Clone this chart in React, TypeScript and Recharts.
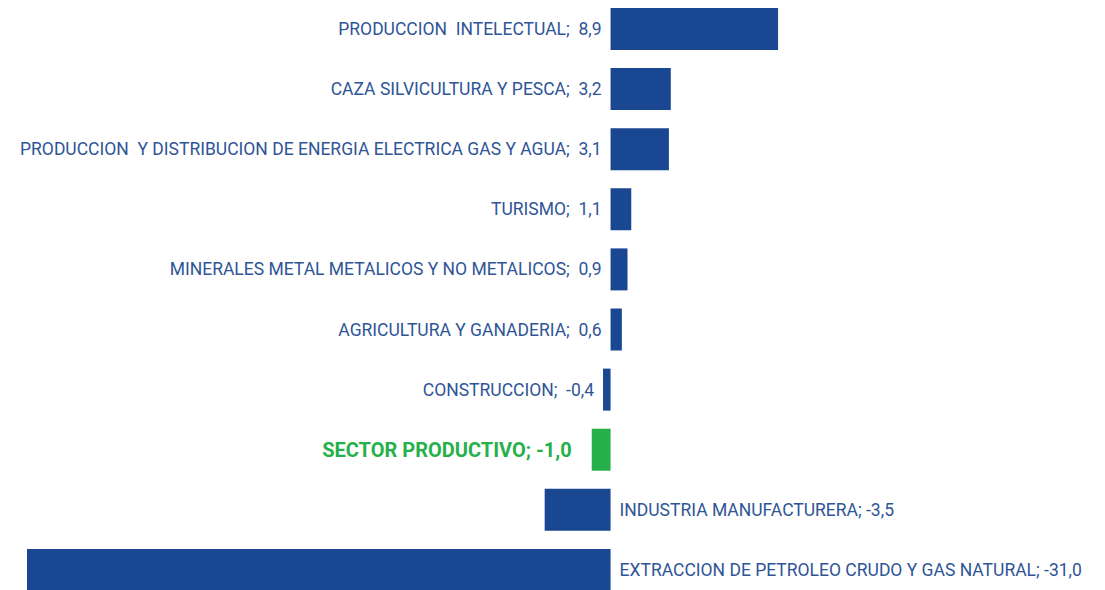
import { BarChart, Bar, XAxis, YAxis, Cell, LabelList } from "recharts";

const categories = [
  "PRODUCCION  INTELECTUAL",
  "CAZA SILVICULTURA Y PESCA",
  "PRODUCCION  Y DISTRIBUCION DE ENERGIA ELECTRICA GAS Y AGUA",
  "TURISMO",
  "MINERALES METAL METALICOS Y NO METALICOS",
  "AGRICULTURA Y GANADERIA",
  "CONSTRUCCION",
  "SECTOR PRODUCTIVO",
  "INDUSTRIA MANUFACTURERA",
  "EXTRACCION DE PETROLEO CRUDO Y GAS NATURAL",
];
const values = [8.9, 3.2, 3.1, 1.1, 0.9, 0.6, -0.4, -1.0, -3.5, -31.0];
const highlight = "SECTOR PRODUCTIVO";

const BLUE = "#1a4791";
const TEXT_BLUE = "#2f5597";
const GREEN = "#26b04a";

const data = categories.map((name, i) => ({ name, value: values[i] }));

const fmt = (v: number) => v.toFixed(1).replace(".", ",");

const BarLabel = (props: any) => {
  const { x, y, width, height, index } = props;
  const d = data[index];
  const left = Math.min(x, x + width);
  const right = Math.max(x, x + width);
  const zero = d.value >= 0 ? left : right;
  const isHi = d.name === highlight;
  const cy = y + height / 2;
  const base = {
    y: cy,
    dominantBaseline: "central" as const,
    fontSize: 17.5,
    fontFamily: "Roboto, sans-serif",
    style: { whiteSpace: "pre" as const },
  };
  if (isHi) {
    return (
      <text {...base} x={left - 20} textAnchor="end" fill={GREEN} fontWeight="bold" fontSize={20}>
        {`${d.name}; ${fmt(d.value)}`}
      </text>
    );
  }
  if (d.value >= -2) {
    return (
      <text {...base} x={left - 9} textAnchor="end" fill={TEXT_BLUE}>
        {`${d.name};  ${fmt(d.value)}`}
      </text>
    );
  }
  return (
    <text {...base} x={zero + 9} textAnchor="start" fill={TEXT_BLUE}>
      {`${d.name}; ${fmt(d.value)}`}
    </text>
  );
};

export default function App() {
  return (
    <div style={{ position: "absolute", left: 0, top: -1, width: 1105, height: 601 }}>
      <BarChart
        width={1105}
        height={601}
        data={data}
        layout="vertical"
        margin={{ top: 0, right: 5, bottom: 0, left: 27 }}
      >
        <XAxis type="number" domain={[-31, 26]} hide />
        <YAxis type="category" dataKey="name" hide />
        <Bar dataKey="value" barSize={42} isAnimationActive={false}>
          {data.map((d, i) => (
            <Cell key={`cell-${i}`} fill={d.name === highlight ? GREEN : BLUE} />
          ))}
          <LabelList dataKey="value" content={BarLabel} />
        </Bar>
      </BarChart>
    </div>
  );
}
